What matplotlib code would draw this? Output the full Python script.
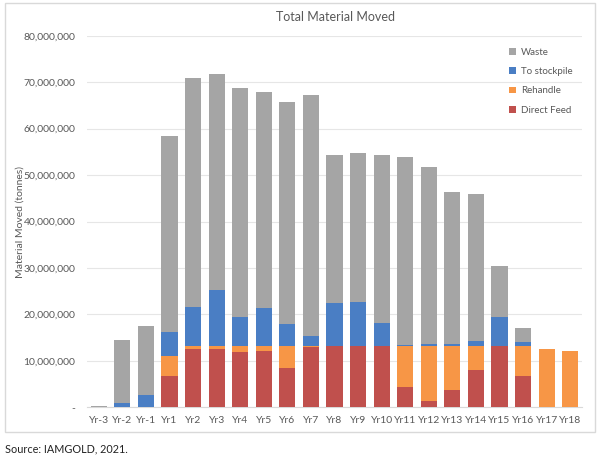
import matplotlib.pyplot as plt
from matplotlib.patches import Rectangle
from matplotlib.ticker import FuncFormatter

plt.rcParams["font.family"] = ["Lato", "DejaVu Sans"]

years = ["Yr-3", "Yr-2", "Yr-1"] + ["Yr%d" % i for i in range(1, 19)]

# tonnes
direct_feed = [0, 0, 0, 6.8e6, 12.6e6, 12.5e6, 11.8e6, 12.2e6, 8.4e6, 13.0e6, 13.1e6,
               13.1e6, 13.1e6, 4.4e6, 1.4e6, 3.7e6, 8.0e6, 13.1e6, 6.8e6, 0, 0]
rehandle = [0, 0, 0, 4.3e6, 0.5e6, 0.6e6, 1.3e6, 0.9e6, 4.7e6, 0.1e6, 0,
            0, 0, 8.7e6, 11.7e6, 9.4e6, 5.1e6, 0, 6.3e6, 12.55e6, 12.2e6]
stockpile = [0, 1.0e6, 2.7e6, 5.1e6, 8.6e6, 12.1e6, 6.3e6, 8.3e6, 4.8e6, 2.3e6, 9.4e6,
             9.5e6, 5.0e6, 0.4e6, 0.6e6, 0.6e6, 1.2e6, 6.3e6, 1.0e6, 0, 0]
totals = [0.35e6, 14.5e6, 17.6e6, 58.5e6, 70.9e6, 71.7e6, 68.7e6, 67.9e6, 65.8e6, 67.3e6, 54.3e6,
          54.8e6, 54.3e6, 53.8e6, 51.7e6, 46.3e6, 45.9e6, 30.5e6, 17.1e6, 12.55e6, 12.2e6]
waste = [t - d - r - s for t, d, r, s in zip(totals, direct_feed, rehandle, stockpile)]

c_red = "#C0504D"
c_orange = "#F79646"
c_blue = "#4A7EC4"
c_gray = "#A5A5A5"
txt = "#595959"

fig = plt.figure(figsize=(6.02, 4.59), dpi=100)
fig.patches.append(Rectangle((5 / 602, 1 - 432 / 459), 590 / 602, 429 / 459,
                             transform=fig.transFigure, fill=False,
                             edgecolor="#D9D9D9", linewidth=1))
ax = fig.add_axes([87 / 602, 51.7 / 459, 495 / 602, 371.6 / 459])

x = range(len(years))
w = 0.68
b1 = direct_feed
b2 = [a + b for a, b in zip(b1, rehandle)]
b3 = [a + b for a, b in zip(b2, stockpile)]
ax.bar(x, direct_feed, w, color=c_red, label="Direct Feed", zorder=3)
ax.bar(x, rehandle, w, bottom=b1, color=c_orange, label="Rehandle", zorder=3)
ax.bar(x, stockpile, w, bottom=b2, color=c_blue, label="To stockpile", zorder=3)
ax.bar(x, waste, w, bottom=b3, color=c_gray, label="Waste", zorder=3)

ax.set_xlim(-0.5, len(years) - 0.5)
ax.set_ylim(0, 80e6)
ax.set_yticks([i * 10e6 for i in range(9)])
ax.yaxis.set_major_formatter(FuncFormatter(lambda v, p: "-" if v == 0 else "{:,.0f}".format(v)))
ax.set_xticks(list(x))
ax.set_xticklabels(years)
ax.tick_params(axis="both", length=0, labelsize=7.5, colors=txt)
ax.tick_params(axis="y", pad=8.5)
ax.tick_params(axis="x", pad=6)
ax.grid(axis="y", color="#E6E6E6", linewidth=0.8, zorder=0)
for s in ["top", "right", "left"]:
    ax.spines[s].set_visible(False)
ax.spines["bottom"].set_color("#D9D9D9")

ax.set_ylabel("Material Moved (tonnes)", fontsize=7.5, color=txt, labelpad=-1)
fig.text(335 / 602, 1 - 17 / 459, "Total Material Moved", ha="center", va="center",
         fontsize=9, color=txt)

h, l = ax.get_legend_handles_labels()
leg = ax.legend(h[::-1], l[::-1], loc="upper left", bbox_to_anchor=(0.8525, 0.967),
                frameon=False, fontsize=7, handlelength=0.7, handleheight=0.7,
                labelspacing=1.05, handletextpad=0.5, borderaxespad=0, borderpad=0)
for t in leg.get_texts():
    t.set_color(txt)

fig.text(5 / 602, 1 - 449 / 459, "Source: IAMGOLD, 2021.", ha="left", va="center",
         fontsize=7.8, color="#222222")

fig.savefig("out.png", dpi=100)
